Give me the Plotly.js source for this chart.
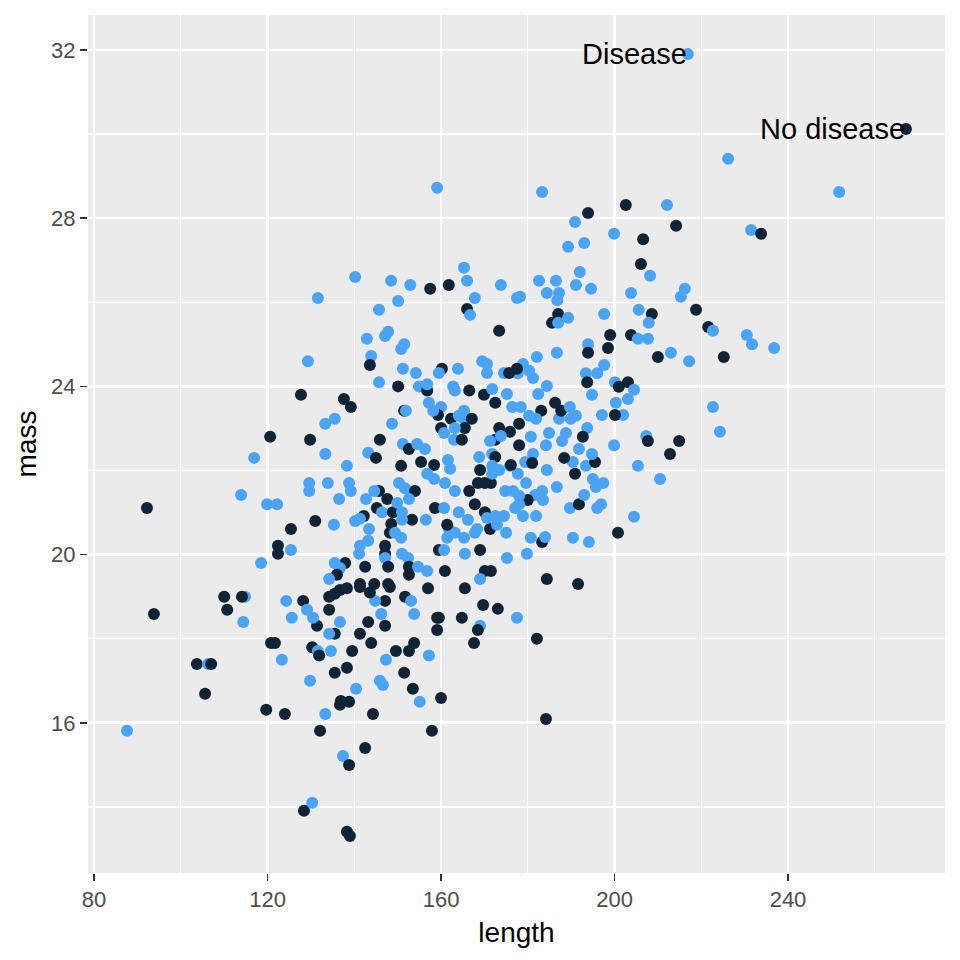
<!DOCTYPE html>
<html>
<head>
<meta charset="utf-8">
<script src="https://cdn.plot.ly/plotly-3.0.1.min.js"></script>
<style>html,body{margin:0;padding:0;background:#fff;}#chart{width:960px;height:960px;}</style>
</head>
<body>
<div id="chart"></div>
<script>
// length values
const lengthVals = [
216.9,267.2,226.2,251.8,159.1,183.3,193.9,202.6,212.1,214.2,190.9,199.9,206.6,189.3,193.0,206.1,192.0,208.2,182.6,186.5,
191.1,194.6,184.4,187.2,203.8,216.2,215.3,178.2,186.8,231.5,233.8,140.2,148.5,152.9,157.5,161.8,165.3,166.0,173.8,167.8,
131.6,150.1,177.5,129.3,127.7,120.6,116.9,113.9,119.9,122.2,92.2,125.4,122.4,122.4,125.4,118.5,93.8,110.0,114.8,114.1,
110.7,114.4,124.3,128.2,125.6,120.8,121.7,123.3,103.7,106.3,107.0,105.6,119.7,124.0,87.6,128.4,138.3,139.0,130.3,137.4,
138.8,142.5,132.1,157.9,133.3,144.3,136.7,136.9,138.8,140.4,153.5,155.1,160.0,129.8,135.5,138.3,145.9,146.6,151.5,147.3,
149.6,152.6,153.8,157.2,139.5,143.9,141.3,135.5,134.2,134.6,130.3,131.6,131.9,131.4,129.1,130.5,134.2,134.2,135.5,136.7,
138.3,136.7,143.2,147.1,147.1,144.8,146.2,143.6,148.2,141.3,151.7,153.1,153.8,157.0,159.1,159.5,159.1,165.5,169.7,173.1,
164.8,169.0,168.5,167.6,177.5,182.1,184.2,187.0,185.6,187.0,189.3,197.6,205.6,208.6,207.9,218.8,221.6,222.7,199.0,
203.8,205.4,207.7,198.5,193.9,193.9,186.7,182.1,210.0,213.0,217.2,225.2,197.6,196.0,193.4,193.7,200.1,203.1,201.0,204.5,
194.8,203.1,200.3,202.0,200.1,197.1,222.7,224.3,207.3,207.7,214.9,212.8,199.9,205.4,210.5,204.5,200.8,194.1,190.4,183.3,
184.0,180.7,179.8,184.4,191.6,189.7,191.8,196.0,196.9,193.0,195.7,197.4,195.0,186.7,183.3,181.7,183.5,180.0,178.0,178.9,
181.9,179.6,177.7,184.4,190.9,193.4,195.5,194.8,190.4,188.4,191.8,193.7,192.7,188.8,187.9,184.9,184.2,181.2,179.4,180.7,
178.0,187.2,189.9,191.1,187.7,186.3,189.7,183.1,181.9,180.3,178.4,178.0,182.4,184.4,178.9,177.7,181.2,177.5,178.0,230.5,
231.7,236.8,145.7,147.8,147.1,142.9,151.5,150.8,166.0,166.7,173.4,143.9,143.6,145.7,150.1,151.2,154.2,154.9,156.8,156.8,
160.2,159.5,163.9,162.8,163.2,166.5,169.9,169.5,170.6,170.6,174.5,175.7,171.8,172.5,175.2,176.4,157.2,160.0,159.3,158.2,
162.3,160.0,160.7,164.1,165.3,165.3,167.1,165.5,163.2,163.0,164.8,173.4,175.9,172.5,171.3,173.8,168.8,171.8,172.5,171.8,
173.4,169.0,168.5,170.1,171.5,171.8,175.9,176.1,174.8,176.6,177.1,166.5,167.8,170.1,163.2,164.1,166.2,168.3,167.8,171.3,
172.5,174.5,175.0,169.0,165.5,175.2,170.1,171.5,169.0,160.9,161.6,162.1,158.4,156.8,158.4,155.4,150.8,151.2,152.6,154.5,
156.3,145.9,143.2,145.0,148.7,151.5,151.9,137.6,139.2,133.3,135.5,129.8,133.3,138.3,129.6,129.6,133.9,138.8,139.2,136.5,
150.3,151.7,154.0,152.6,145.7,144.6,147.6,142.7,145.2,146.4,148.9,151.0,142.2,140.2,141.3,148.5,153.3,151.0,156.5,158.6,
160.7,143.4,148.2,149.4,150.8,143.2,141.3,141.1,147.1,147.1,147.1,151.0,152.4,159.5,160.7,161.4,161.8,163.2,165.3,161.4,
137.9,135.5,136.7,136.0,134.2,142.5,147.8,152.6,152.6,154.7,156.8,160.9,141.3,144.6,147.8,149.9,170.6,172.9,131.0,135.3,
181.0,180.3
];
// mass values
const massVals = [
31.9,30.12,29.41,28.62,28.72,28.62,28.12,28.31,28.31,27.82,27.91,27.63,27.5,27.32,27.41,26.91,26.72,26.63,26.51,26.51,
26.41,26.32,26.22,26.22,26.22,26.32,26.13,26.13,26.05,27.72,27.63,26.6,26.51,26.41,26.32,26.41,26.82,26.51,26.41,26.1,
26.1,26.03,26.1,24.6,23.8,22.8,22.3,21.42,21.2,21.2,21.11,20.61,20.21,20.02,20.11,19.8,18.59,19.0,19.0,19.0,
18.69,18.4,18.9,18.9,18.5,17.9,17.9,17.5,17.4,17.4,17.4,16.69,16.31,16.21,15.81,13.91,13.41,13.31,14.1,15.21,
15.0,15.4,15.81,15.81,16.21,16.21,16.43,16.52,16.5,16.81,16.81,16.5,16.59,17.0,17.19,17.31,17.0,16.9,17.19,17.5,
17.71,17.71,17.9,17.6,17.71,17.9,18.12,18.12,18.12,17.71,17.8,17.71,17.6,18.31,18.69,18.5,18.69,19.0,19.07,19.16,
19.2,18.4,18.4,18.31,18.9,18.9,18.59,19.1,19.23,19.23,19.0,18.9,18.59,19.2,18.5,18.5,18.21,19.2,18.8,18.71,
18.5,18.31,18.21,17.9,18.5,18.0,16.09,25.72,25.51,25.51,25.63,25.72,25.82,25.72,25.51,25.82,25.41,25.32,25.22,
25.22,25.13,25.13,24.91,25.0,24.8,24.8,24.7,24.7,24.8,24.6,24.7,24.51,24.31,24.31,24.1,24.1,24.1,23.99,23.92,
23.8,23.7,23.61,23.32,23.32,23.32,23.51,22.92,22.82,22.7,22.7,22.39,22.6,22.11,21.8,20.9,20.52,20.3,20.4,20.3,
20.42,20.4,20.02,19.42,19.3,21.11,21.2,21.11,21.2,21.42,21.61,21.7,21.8,21.61,21.51,21.42,21.3,21.3,21.2,20.92,
20.92,21.7,21.92,22.01,21.92,22.11,22.2,22.39,22.2,22.3,22.51,23.01,22.8,22.89,22.7,22.89,22.6,22.39,22.2,22.8,
22.6,23.23,23.23,23.3,23.42,23.61,23.51,23.42,23.23,23.3,23.51,23.11,23.82,24.01,24.53,24.31,24.2,24.42,21.4,25.22,
25.0,24.91,25.82,25.3,25.2,25.13,25.0,24.89,25.84,25.7,25.32,24.72,24.51,24.1,24.0,24.42,24.32,24.0,23.9,24.05,
24.42,24.32,24.42,24.0,23.9,23.9,23.8,24.6,24.53,24.32,24.32,24.32,23.94,23.61,23.82,23.51,23.61,23.51,23.32,23.42,
23.23,23.01,22.89,23.3,23.42,23.23,23.23,23.01,23.01,22.73,22.73,23.01,22.92,22.73,22.7,22.82,22.32,22.39,22.32,22.11,
22.01,22.01,21.7,21.7,21.7,21.92,22.11,22.13,21.51,21.51,21.11,21.51,21.2,21.01,21.51,21.01,20.83,20.61,20.52,20.61,
20.92,20.92,20.52,20.11,20.02,19.92,19.61,19.61,19.42,21.7,22.25,22.04,22.13,21.92,21.8,22.2,22.11,22.63,22.51,22.63,
22.51,22.73,22.42,22.3,23.11,23.42,23.42,23.7,23.51,23.11,23.23,22.73,22.39,22.11,21.7,21.51,21.7,21.7,21.51,21.32,
21.7,21.58,21.51,21.32,21.51,21.51,21.32,21.32,21.11,21.01,21.01,21.01,20.92,20.8,20.85,20.73,20.83,20.83,20.83,21.11,
21.11,20.61,20.52,20.52,20.4,20.33,20.21,20.02,20.21,20.02,19.92,20.02,19.92,20.11,20.11,20.4,20.61,20.52,20.4,20.71,
19.8,19.8,19.68,19.52,19.42,19.71,19.71,19.71,19.52,19.71,19.61,19.61,19.3,19.3,19.3,21.23,20.87,20.71,20.8,20.71,
22.18,24.37
];
// disease status: 1 = disease, 0 = no disease
const diseaseVals = [
1,0,1,1,1,1,0,0,1,0,1,1,0,1,1,0,1,1,1,1,
1,1,1,1,1,1,1,1,1,1,0,1,1,1,0,0,1,1,1,1,
1,1,1,1,0,0,1,1,1,1,0,0,0,0,1,1,0,0,1,0,
0,1,1,0,1,0,0,1,0,1,0,0,0,0,1,0,0,0,1,1,
0,0,0,0,1,0,0,0,0,1,0,1,0,1,0,0,1,1,0,1,
0,0,0,1,0,0,0,0,1,1,0,1,0,0,1,1,0,0,0,0,
0,1,0,0,0,1,1,0,0,0,0,1,1,0,0,0,0,0,0,0,
0,1,0,0,1,0,0,0,0,1,1,1,1,0,1,0,0,1,0,
0,1,1,0,1,0,1,1,0,1,1,0,1,1,1,0,1,0,0,1,
1,1,1,1,0,1,1,1,1,0,0,0,1,1,1,1,0,1,1,0,
1,1,1,0,0,1,0,1,1,1,1,1,1,1,1,1,1,0,1,1,
1,1,1,1,0,1,0,1,1,0,1,1,0,1,1,1,1,1,1,1,
0,1,1,1,0,0,1,0,1,1,1,0,1,1,1,1,1,0,1,1,
1,1,1,1,1,1,1,1,0,1,0,1,0,1,0,1,1,1,0,1,
0,1,1,1,1,0,0,1,1,1,1,0,1,0,1,1,1,1,0,1,
0,0,1,1,1,1,0,0,1,1,0,0,0,0,1,1,1,1,0,1,
1,0,0,0,0,1,1,0,1,1,1,0,0,0,1,1,1,1,1,0,
1,1,1,0,1,1,0,0,1,1,1,1,0,1,1,0,0,1,0,1,
1,0,1,0,1,0,1,0,0,1,1,0,1,1,1,1,1,1,1,1,
1,1,0,1,0,1,0,1,0,1,0,1,0,1,1,0,0,1,1,0,
1,1,0,1,1,1,1,1,0,0,1,1,1,0,1,1,1,1,1,0,
0,1,1,0,1,0,0,0,0,1,1,0,0,0,0,1,1,1,0,1,
0,1
];
// text labels and the points they mark
const labelTexts = ['Disease', 'No disease'];
const labelIndex = [0, 1];

const xTicks = [80, 120, 160, 200, 240];
const yTicks = [16, 20, 24, 28, 32];

const colDisease = '#4AA3F3';
const colNoDisease = '#112436';

const trace = {
  type: 'scatter',
  mode: 'markers',
  x: lengthVals,
  y: massVals,
  marker: {
    size: 12,
    color: diseaseVals.map(d => d === 1 ? colDisease : colNoDisease),
    line: {width: 0}
  },
  hoverinfo: 'x+y',
  showlegend: false
};

const annotations = labelIndex.map((idx, i) => ({
  x: lengthVals[idx],
  y: massVals[idx],
  text: labelTexts[i],
  showarrow: false,
  xanchor: 'right',
  yanchor: 'middle',
  borderpad: 0,
  font: {family: 'Liberation Sans, Arial, sans-serif', size: 29, color: '#000000'}
}));

const axisCommon = {
  showline: false,
  zeroline: false,
  ticks: 'outside',
  ticklen: 7,
  tickwidth: 1.4,
  tickcolor: '#333333',
  gridcolor: '#FFFFFF',
  gridwidth: 2.7,
  tickfont: {family: 'Liberation Sans, Arial, sans-serif', size: 22, color: '#4D4D4D'}
};

const layout = {
  width: 960,
  height: 960,
  paper_bgcolor: '#FFFFFF',
  plot_bgcolor: '#EBEBEB',
  margin: {l: 88, r: 15, t: 15, b: 87, pad: 0},
  font: {family: 'Liberation Sans, Arial, sans-serif'},
  xaxis: Object.assign({}, axisCommon, {
    range: [78.6, 276.2],
    tickmode: 'array',
    tickvals: xTicks,
    ticktext: xTicks.map(String),
    minor: {tick0: 80, dtick: 20, showgrid: true, gridcolor: '#FFFFFF', gridwidth: 1.3, ticks: ''},
    title: {text: 'length', font: {size: 28, color: '#000000'}, standoff: 10}
  }),
  yaxis: Object.assign({}, axisCommon, {
    range: [12.43, 32.83],
    tickmode: 'array',
    tickvals: yTicks,
    ticktext: yTicks.map(String),
    minor: {tick0: 16, dtick: 2, showgrid: true, gridcolor: '#FFFFFF', gridwidth: 1.3, ticks: ''},
    title: {text: 'mass', font: {size: 28, color: '#000000'}, standoff: 6}
  }),
  annotations: annotations
};

Plotly.newPlot('chart', [trace], layout, {displayModeBar: false, staticPlot: true});
</script>
</body>
</html>
